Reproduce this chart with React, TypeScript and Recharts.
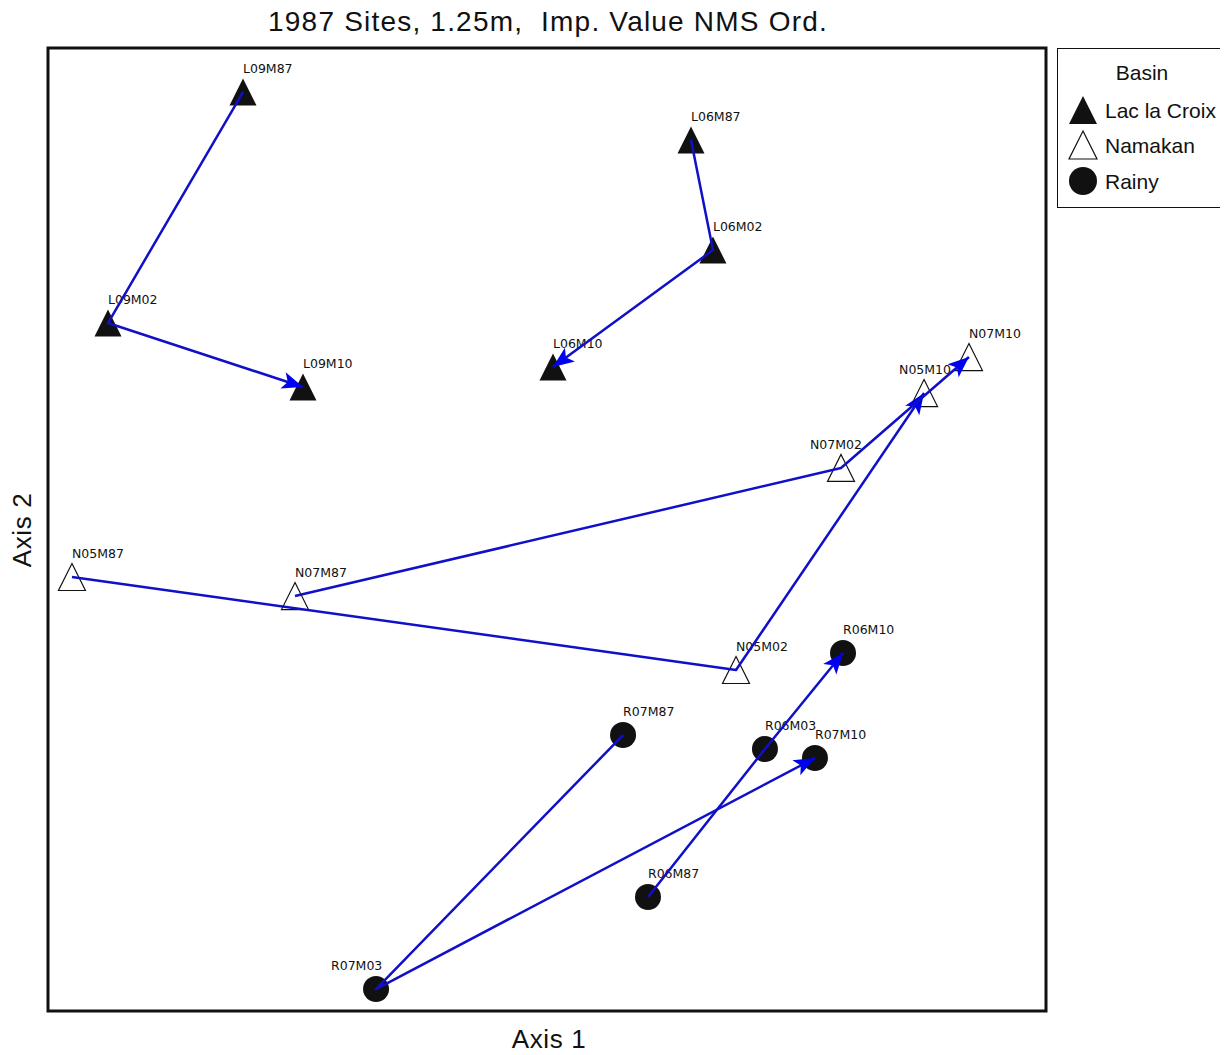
import React from "react";
import { ScatterChart, Scatter, XAxis, YAxis, ReferenceArea } from "recharts";

// NMS ordination scores, one entry per sample (site + sampling year)
const sampleNames = [
  "L09M87", "L09M02", "L09M10",
  "L06M87", "L06M02", "L06M10",
  "N05M87", "N05M02", "N05M10",
  "N07M87", "N07M02", "N07M10",
  "R06M87", "R06M03", "R06M10",
  "R07M87", "R07M03", "R07M10",
];
const sampleBasins = [
  "Lac la Croix", "Lac la Croix", "Lac la Croix",
  "Lac la Croix", "Lac la Croix", "Lac la Croix",
  "Namakan", "Namakan", "Namakan",
  "Namakan", "Namakan", "Namakan",
  "Rainy", "Rainy", "Rainy",
  "Rainy", "Rainy", "Rainy",
];
const axis1 = [
  19.54, 6.01, 25.55,
  64.43, 66.63, 50.6,
  2.4, 68.94, 87.78,
  24.75, 79.46, 92.28,
  60.12, 71.84, 79.66,
  57.62, 32.87, 76.85,
];
const axis2 = [
  95.43, 71.44, 64.8,
  90.45, 79.02, 66.87,
  45.07, 35.41, 64.17,
  43.09, 56.39, 67.91,
  11.84, 27.21, 37.18,
  28.66, 2.28, 26.27,
];
const basins = ["Lac la Croix", "Namakan", "Rainy"];
const sites = ["L09", "L06", "N05", "N07", "R06", "R07"];

const points = sampleNames.map((name, i) => ({
  name,
  basin: sampleBasins[i],
  x: axis1[i],
  y: axis2[i],
}));

// successional vectors: each site's samples in time order
const trajectories = sites.map((site) => points.filter((p) => p.name.startsWith(site)));

// labels that sit left of their marker
const labelShift: Record<string, number> = { N05M10: -25, N07M02: -31, R07M03: -45 };

const LINE = "#1010c8";
const HEAD = "#0000f0";

function Marker({ basin, cx, cy, size }: { basin: string; cx: number; cy: number; size: number }) {
  const h = size / 2;
  if (basin === "Rainy") return <circle cx={cx} cy={cy} r={h} fill="#111" />;
  const d = `M${cx},${cy - h} L${cx + h},${cy + h} L${cx - h},${cy + h} Z`;
  return basin === "Namakan" ? (
    <path d={d} fill="#fff" stroke="#111" strokeWidth={1.2} />
  ) : (
    <path d={d} fill="#111" />
  );
}

const sampleShape = (props: any) => {
  const { cx, cy, payload } = props;
  const dx = labelShift[payload.name] ?? 0;
  return (
    <g>
      <Marker basin={payload.basin} cx={cx} cy={cy} size={payload.basin === "Rainy" ? 26 : 27} />
      <text x={cx + dx} y={cy - 19} fontSize={12.5} fontFamily="DejaVu Sans, sans-serif" fill="#111">
        {payload.name}
      </text>
    </g>
  );
};

// polyline through the site's samples, arrowhead on the last one
const vectorLine = (props: any) => {
  const pts: { x: number; y: number }[] = props.points;
  const d = pts.map((p, i) => `${i === 0 ? "M" : "L"}${p.x},${p.y}`).join(" ");
  const a = pts[pts.length - 2];
  const b = pts[pts.length - 1];
  const len = Math.hypot(b.x - a.x, b.y - a.y);
  const ux = (b.x - a.x) / len;
  const uy = (b.y - a.y) / len;
  const L = 21;
  const W = 8.5;
  const bx = b.x - ux * L;
  const by = b.y - uy * L;
  const head = `M${b.x},${b.y} L${bx - uy * W},${by + ux * W} L${bx + ux * 5},${by + uy * 5} L${bx + uy * W},${by - ux * W} Z`;
  return (
    <g>
      <path d={d} fill="none" stroke={LINE} strokeWidth={2.5} strokeLinejoin="round" />
      <path d={head} fill={HEAD} />
    </g>
  );
};

const noDot = () => <g />;

function BasinLegend() {
  return (
    <div
      style={{
        position: "absolute",
        left: 1049,
        top: 40,
        width: 170,
        height: 160,
        border: "1px solid #111",
        boxSizing: "border-box",
      }}
    >
      <svg width={168} height={158} style={{ display: "block" }}>
        <text x={84} y={31} textAnchor="middle" fontSize={21} fill="#111" fontFamily="Liberation Sans, Arial, sans-serif">
          Basin
        </text>
        {basins.map((b, i) => {
          const y = [61, 96, 132][i];
          return (
            <g key={b}>
              <Marker basin={b} cx={25} cy={y} size={28} />
              <text x={47} y={y + 8} fontSize={21} fill="#111" fontFamily="Liberation Sans, Arial, sans-serif">
                {b}
              </text>
            </g>
          );
        })}
      </svg>
    </div>
  );
}

export default function App() {
  return (
    <div
      style={{
        position: "relative",
        width: 1220,
        height: 1047,
        fontFamily: "Liberation Sans, Arial, sans-serif",
        color: "#111",
      }}
    >
      <div
        style={{
          position: "absolute",
          left: 0,
          width: 1080,
          top: -2,
          lineHeight: "32px",
          fontSize: 28,
          letterSpacing: 1.2,
          textAlign: "center",
          whiteSpace: "pre",
        }}
      >
        {"1987 Sites, 1.25m,  Imp. Value NMS Ord."}
      </div>
      <ScatterChart width={1220} height={1047} margin={{ top: 40, right: 182, bottom: 44, left: 40 }}>
        <XAxis type="number" dataKey="x" domain={[0, 100]} hide allowDataOverflow />
        <YAxis type="number" dataKey="y" domain={[0, 100]} hide allowDataOverflow />
        <ReferenceArea x1={0} x2={100} y1={0} y2={100} fill="none" stroke="#111" strokeWidth={3} />
        {basins.map((b) => (
          <Scatter
            key={b}
            name={b}
            data={points.filter((p) => p.basin === b)}
            shape={sampleShape}
            isAnimationActive={false}
          />
        ))}
        {trajectories.map((t, i) => (
          <Scatter
            key={sites[i]}
            name={sites[i]}
            data={t}
            line={vectorLine}
            lineType="joint"
            shape={noDot}
            legendType="none"
            isAnimationActive={false}
          />
        ))}
      </ScatterChart>
      <div
        style={{
          position: "absolute",
          left: 0,
          width: 1082,
          top: 1016,
          lineHeight: "30px",
          fontSize: 26,
          letterSpacing: 0.6,
          textAlign: "center",
        }}
      >
        Axis 1
      </div>
      <div
        style={{
          position: "absolute",
          left: 14,
          top: 522,
          fontSize: 26,
          letterSpacing: 0.6,
          whiteSpace: "nowrap",
          transform: "translate(-50%, -50%) rotate(-90deg)",
        }}
      >
        Axis 2
      </div>
      <BasinLegend />
    </div>
  );
}
